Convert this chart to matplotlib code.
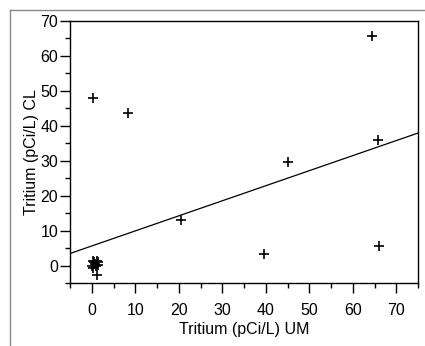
import matplotlib
matplotlib.use('agg')
import matplotlib.pyplot as plt
from matplotlib.lines import Line2D
from matplotlib.ticker import MultipleLocator

plt.rcParams['font.family'] = ['Liberation Sans', 'DejaVu Sans']

# tritium, pCi/L
um = [0.4, 8.3, 20.6, 39.7, 45.0, 64.4, 65.9, 66.0,
      0.0, 0.2, 0.5, 0.8, 1.0, 1.2, 1.5, 1.3, 0.3, 1.4]
cl = [47.9, 43.8, 12.9, 3.3, 29.6, 65.8, 35.9, 5.5,
      0.0, -0.6, 1.0, 0.3, 0.0, 1.2, 0.9, -2.6, 1.3, 0.2]

# fitted line
fit_intercept = 5.6
fit_slope = 0.431
fit_x = [-5, 75]

fig = plt.figure(figsize=(4.25, 3.46), dpi=100)
ax = fig.add_axes([70 / 425, 1 - 283 / 346, 348 / 425, 262 / 346])

ax.plot(um, cl, linestyle='none', marker='+', color='black',
        markersize=7.5, markeredgewidth=1.2)
ax.plot(fit_x, [fit_intercept + fit_slope * x for x in fit_x],
        color='black', linewidth=0.9)

ax.set_xlim(-5, 75)
ax.set_ylim(-5, 70)
ax.xaxis.set_major_locator(MultipleLocator(10))
ax.xaxis.set_minor_locator(MultipleLocator(5))
ax.yaxis.set_major_locator(MultipleLocator(10))
ax.yaxis.set_minor_locator(MultipleLocator(5))
ax.tick_params(which='major', direction='out', length=7, width=1,
               labelsize=11.5)
ax.tick_params(axis='x', which='major', pad=7.5)
ax.tick_params(axis='y', which='major', pad=1.5)
ax.tick_params(which='minor', direction='out', length=3.5, width=1)
for s in ax.spines.values():
    s.set_linewidth(1)

ax.set_xlabel('Tritium (pCi/L) UM', fontsize=11.5, labelpad=2.5)
ax.set_ylabel('Tritium (pCi/L) CL', fontsize=11.5, labelpad=1)

# outer frame
fig.add_artist(Line2D([10 / 425, 1], [1 - 10 / 346, 1 - 10 / 346],
                      transform=fig.transFigure, color='#888888', lw=1))
fig.add_artist(Line2D([10 / 425, 10 / 425], [0, 1 - 10 / 346],
                      transform=fig.transFigure, color='#888888', lw=1))

fig.savefig('out.png', dpi=100)
